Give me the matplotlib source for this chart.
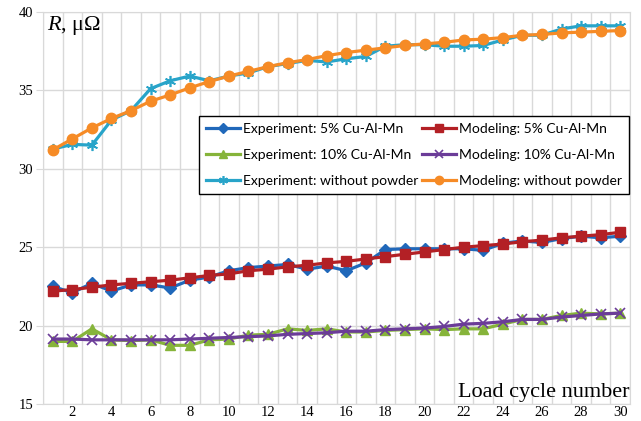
import numpy as np
import matplotlib
matplotlib.use("Agg")
import matplotlib.pyplot as plt

plt.rcParams['mathtext.fontset'] = 'custom'
plt.rcParams['mathtext.rm'] = 'Liberation Serif'
plt.rcParams['mathtext.it'] = 'Liberation Serif:italic'

# load cycle numbers (categories)
cycles = np.arange(1, 31)
xticks = list(range(2, 31, 2))

# resistance, micro-ohm
exp5 = [22.5, 22.1, 22.7, 22.2, 22.6, 22.6, 22.4, 22.9, 23.1, 23.5,
        23.7, 23.8, 23.9, 23.6, 23.8, 23.5, 24.0, 24.85, 24.9, 24.9,
        24.9, 24.9, 24.8, 25.25, 25.4, 25.3, 25.55, 25.7, 25.6, 25.7]
mod5 = [22.2, 22.3, 22.45, 22.6, 22.7, 22.8, 22.9, 23.05, 23.2, 23.3,
        23.5, 23.6, 23.75, 23.85, 24.0, 24.1, 24.25, 24.4, 24.55, 24.7,
        24.85, 25.0, 25.1, 25.2, 25.35, 25.45, 25.6, 25.7, 25.8, 25.95]
exp10 = [19.0, 19.0, 19.8, 19.1, 19.05, 19.1, 18.75, 18.75, 19.1, 19.15,
         19.4, 19.45, 19.8, 19.7, 19.8, 19.6, 19.6, 19.7, 19.75, 19.8,
         19.75, 19.8, 19.8, 20.1, 20.4, 20.4, 20.65, 20.8, 20.75, 20.8]
mod10 = [19.15, 19.15, 19.1, 19.1, 19.1, 19.1, 19.1, 19.15, 19.2, 19.25,
         19.3, 19.35, 19.45, 19.5, 19.55, 19.65, 19.65, 19.75, 19.8, 19.85,
         19.95, 20.1, 20.15, 20.25, 20.4, 20.4, 20.55, 20.65, 20.75, 20.8]
exp_wo = [31.25, 31.55, 31.5, 33.1, 33.7, 35.1, 35.6, 35.9, 35.6, 35.9,
          36.1, 36.5, 36.7, 36.9, 36.8, 37.0, 37.15, 37.8, 37.9, 37.9,
          37.8, 37.8, 37.85, 38.2, 38.5, 38.5, 38.9, 39.1, 39.1, 39.1]
mod_wo = [31.2, 31.9, 32.6, 33.2, 33.7, 34.3, 34.7, 35.15, 35.55, 35.9,
          36.2, 36.5, 36.75, 36.95, 37.2, 37.4, 37.55, 37.7, 37.85, 37.95,
          38.05, 38.2, 38.25, 38.35, 38.5, 38.55, 38.65, 38.7, 38.75, 38.8]

fig = plt.figure(figsize=(6.41, 4.21), dpi=100)
ax = fig.add_axes([43/641, 16.8/421, 587/641, 392.5/421])

lw = 2.3
asterisk = (6, 2, 0)
l1, = ax.plot(cycles, exp5, color='#2068BA', lw=lw, marker='D', ms=6,
              label='Experiment: 5% Cu-Al-Mn')
l2, = ax.plot(cycles, mod5, color='#B32025', lw=lw, marker='s', ms=7,
              label='Modeling: 5% Cu-Al-Mn')
l3, = ax.plot(cycles, exp10, color='#86B43A', lw=lw, marker='^', ms=7.5,
              label='Experiment: 10% Cu-Al-Mn')
l4, = ax.plot(cycles, mod10, color='#6B3C98', lw=lw, marker='x', ms=7,
              mew=1.2, label='Modeling: 10% Cu-Al-Mn')
l5, = ax.plot(cycles, exp_wo, color='#28A4C9', lw=lw, marker=asterisk, ms=8,
              mew=1.2, label='Experiment: without powder')
l6, = ax.plot(cycles, mod_wo, color='#F68B26', lw=lw, marker='o', ms=7.5,
              label='Modeling: without powder')

ax.set_xlim(0.5, 30.5)
ax.set_ylim(15, 40)
ax.set_xticks(xticks)
ax.set_xticks(np.arange(0.5, 31, 1), minor=True)
ax.set_yticks(range(15, 41, 5))
ax.grid(True, which='minor', axis='x', color='#D9D9D9', lw=1)
ax.grid(True, which='major', axis='y', color='#D9D9D9', lw=1)
ax.set_axisbelow(True)
for s in ax.spines.values():
    s.set_color('#D9D9D9')
ax.tick_params(axis='x', which='both', length=0, pad=1)
ax.tick_params(axis='y', length=5, color='#D9D9D9', pad=2)
for lab in ax.get_xticklabels() + ax.get_yticklabels():
    lab.set_fontfamily('Liberation Serif')
    lab.set_fontsize(10.5)

ax.annotate('$R$, μΩ', xy=(0, 1), xycoords='axes fraction', xytext=(4, -2),
            textcoords='offset pixels', ha='left', va='top',
            fontsize=16, family='Liberation Serif')
ax.annotate('Load cycle number', xy=(1, 0), xycoords='axes fraction',
            xytext=(0, 7), textcoords='offset pixels', ha='right',
            va='baseline', fontsize=16, family='Liberation Serif')

leg = ax.legend(handles=[l1, l3, l5, l2, l4, l6], ncol=2, loc='upper right',
                bbox_to_anchor=(0.998, 0.734), borderaxespad=0,
                prop={'family': 'Lato', 'size': 10}, handlelength=2.45,
                handletextpad=0.2, columnspacing=0.3, labelspacing=1.0,
                borderpad=0.5, fancybox=False, framealpha=1,
                markerscale=0.8)
leg.get_frame().set_edgecolor('black')
leg.get_frame().set_linewidth(1.0)

fig.savefig('out.png', dpi=100)
